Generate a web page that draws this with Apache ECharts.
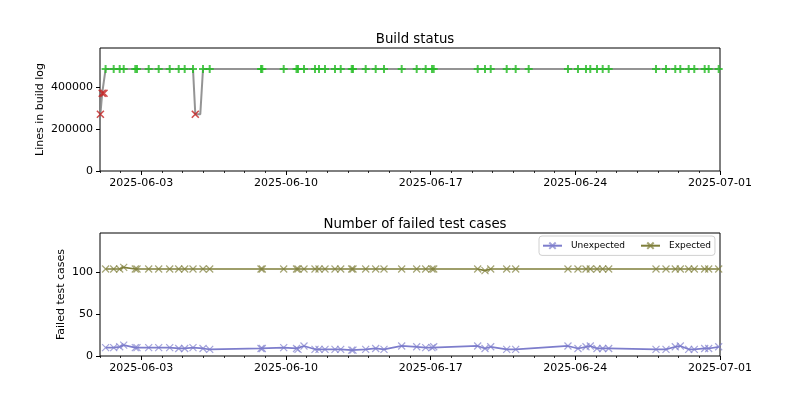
<!DOCTYPE html>
<html>
<head>
<meta charset="utf-8">
<script src="https://cdn.jsdelivr.net/npm/echarts@6/dist/echarts.min.js"></script>
<style>html,body{margin:0;padding:0;background:#fff}#c{width:800px;height:400px}</style>
</head>
<body>
<div id="c"></div>
<script>
// ---- data ----
const successDates = [
 '2025-06-01 06:30','2025-06-01 15:55','2025-06-01 22:52','2025-06-02 03:32','2025-06-02 17:00','2025-06-02 18:58',
 '2025-06-03 08:33','2025-06-03 20:10','2025-06-04 08:57','2025-06-04 19:24','2025-06-05 02:21','2025-06-05 12:00',
 '2025-06-05 23:37','2025-06-06 07:24','2025-06-08 18:58','2025-06-08 20:28','2025-06-09 21:20','2025-06-10 12:12',
 '2025-06-10 13:57','2025-06-10 20:54','2025-06-11 09:40','2025-06-11 14:20','2025-06-11 21:17','2025-06-12 08:54',
 '2025-06-12 15:32','2025-06-13 04:18','2025-06-13 05:48','2025-06-13 20:33','2025-06-14 08:10','2025-06-14 17:48',
 '2025-06-15 14:21','2025-06-16 07:46','2025-06-16 18:13','2025-06-17 01:32','2025-06-17 03:32','2025-06-19 06:37',
 '2025-06-19 15:06','2025-06-19 21:43','2025-06-20 16:18','2025-06-21 02:44','2025-06-21 17:50','2025-06-23 15:27',
 '2025-06-24 03:04','2025-06-24 12:22','2025-06-24 17:22','2025-06-25 01:09','2025-06-25 07:46','2025-06-25 14:44',
 '2025-06-27 21:40','2025-06-28 09:17','2025-06-28 20:05','2025-06-29 01:54','2025-06-29 11:38','2025-06-29 18:09',
 '2025-06-30 06:13','2025-06-30 10:52','2025-06-30 22:29'
];
const successLines = successDates.map(() => 485000);
const failedDates = ['2025-06-01 00:28','2025-06-01 02:33','2025-06-01 04:39','2025-06-05 14:40'];
const failedLines = [270000, 370000, 370000, 270000];
const unmarkedDates = ['2025-06-05 20:28'];
const unmarkedLines = [270000];

const testDates = successDates.filter(d => d !== '2025-06-21 17:50');
const unexpected = [10,10,11,13,10,10,10,10,10,9,9,10,9,8,9,9,10,9,8,12,8,8,8,8,8,7,7,8,9,8,
                    12,11,10,10,11,12,9,11,8,8,12,9,11,12,9,9,9,8,8,11,12,8,8,9,9,11];
const expected = [104,104,104,106,104,104,104,104,104,104,104,104,104,104,104,104,104,104,104,104,
                  104,104,104,104,104,104,104,104,104,104,104,104,104,104,104,104,102,104,104,104,
                  104,104,104,104,104,104,104,104,104,104,104,104,104,104,104,104];

const xStart = '2025-06-01 00:00';
const xEnd = '2025-07-01 00:00';
const xTickLabels = ['2025-06-03','2025-06-10','2025-06-17','2025-06-24','2025-07-01'];
const yTicksTop = [0, 200000, 400000];
const yTicksBottom = [0, 50, 100];

// ---- helpers ----
function t(s){
  const m = s.match(/(\d+)-(\d+)-(\d+)(?:[ T](\d+):(\d+))?/);
  return Date.UTC(+m[1], +m[2]-1, +m[3], +(m[4]||0), +(m[5]||0));
}
const xMin = t(xStart), xMax = t(xEnd);
const majorVals = xTickLabels.map(t);
const labelMap = {}; xTickLabels.forEach(l => labelMap[t(l)] = l);
const minorVals = [];
for (let v = xMin; v <= xMax; v += 86400000) minorVals.push(v);

const buildAll = []
  .concat(successDates.map((d,i)=>[t(d), successLines[i]]))
  .concat(failedDates.map((d,i)=>[t(d), failedLines[i]]))
  .concat(unmarkedDates.map((d,i)=>[t(d), unmarkedLines[i]]))
  .sort((a,b)=>a[0]-b[0]);

const FONT = 'DejaVu Sans';
const X_SYM = 'path://M0,0L10,10M10,0L0,10';
const P_SYM = 'path://M5,0L5,10M0,5L10,5';

function xAxes(gi){
  return [{
    type:'value', gridIndex:gi, min:xMin, max:xMax, position:'bottom',
    axisLine:{show:false},
    axisTick:{show:true, length:4, customValues:majorVals, lineStyle:{color:'#000', width:1}},
    axisLabel:{show:true, customValues:majorVals, margin:7, color:'#000', fontFamily:FONT, fontSize:11,
               formatter:v=>labelMap[v]||''},
    splitLine:{show:false}
  },{
    type:'value', gridIndex:gi, min:xMin, max:xMax, position:'bottom',
    axisLine:{show:false},
    axisTick:{show:true, length:2, customValues:minorVals, lineStyle:{color:'#000', width:0.8}},
    axisLabel:{show:false}, splitLine:{show:false}
  }];
}
function yAxis(gi, max, ticks, name, gap){
  return {
    type:'value', gridIndex:gi, min:0, max:max, position:'left',
    name:name, nameLocation:'middle', nameGap:gap, nameRotate:90, nameMoveOverlap:false,
    nameTextStyle:{color:'#000', fontFamily:FONT, fontSize:11},
    axisLine:{show:false},
    axisTick:{show:true, length:4, customValues:ticks, lineStyle:{color:'#000'}},
    axisLabel:{customValues:ticks, margin:7, color:'#000', fontFamily:FONT, fontSize:11,
               formatter:v=>String(v)},
    splitLine:{show:false}
  };
}

const chart = echarts.init(document.getElementById('c'), null, {renderer:'canvas'});
chart.setOption({
  animation:false,
  backgroundColor:'#fff',
  title:[
    {text:'Build status', left:410, top:28, textAlign:'center',
     textStyle:{fontFamily:FONT, fontSize:13.3, fontWeight:'normal', color:'#000'}},
    {text:'Number of failed test cases', left:410, top:213, textAlign:'center',
     textStyle:{fontFamily:FONT, fontSize:13.3, fontWeight:'normal', color:'#000'}}
  ],
  grid:[
    {left:100, width:620, top:48, height:123, show:true, borderColor:'#000', borderWidth:1, backgroundColor:'transparent'},
    {left:100, width:620, top:233, height:123, show:true, borderColor:'#000', borderWidth:1, backgroundColor:'transparent'}
  ],
  xAxis:[].concat(xAxes(0), xAxes(1)),
  yAxis:[
    yAxis(0, 585000, yTicksTop, 'Lines in build log', 54),
    yAxis(1, 147, yTicksBottom, 'Failed test cases', 33)
  ],
  legend:{
    data:['Unexpected','Expected'],
    left:539, top:236, orient:'horizontal',
    padding:[4,4,4,3], itemGap:15, itemWidth:19, itemHeight:8,
    borderColor:'#d0d0d0', borderWidth:1, borderRadius:3, backgroundColor:'rgba(255,255,255,0.8)',
    textStyle:{fontFamily:FONT, fontSize:9, color:'#000', padding:[0,0,0,4]}
  },
  series:[
    {type:'line', name:'build', xAxisIndex:0, yAxisIndex:0, data:buildAll, symbol:'none',
     lineStyle:{color:'#888888', width:2, opacity:0.9}, z:2},
    {type:'scatter', name:'success', xAxisIndex:0, yAxisIndex:0,
     data:successDates.map((d,i)=>[t(d), successLines[i]]),
     symbol:P_SYM, symbolSize:8,
     itemStyle:{color:'none', borderColor:'#22bb22', borderWidth:2}, z:3},
    {type:'scatter', name:'failed', xAxisIndex:0, yAxisIndex:0,
     data:failedDates.map((d,i)=>[t(d), failedLines[i]]),
     symbol:X_SYM, symbolSize:7,
     itemStyle:{color:'none', borderColor:'#c42020', borderWidth:1.6}, z:4},
    {type:'line', name:'Unexpected', xAxisIndex:2, yAxisIndex:1,
     data:testDates.map((d,i)=>[t(d), unexpected[i]]),
     symbol:X_SYM, symbolSize:7, showAllSymbol:true,
     lineStyle:{color:'#7d7dcc', width:1.7},
     itemStyle:{color:'none', borderColor:'rgba(125,125,204,0.7)', borderWidth:1.2}},
    {type:'line', name:'Expected', xAxisIndex:2, yAxisIndex:1,
     data:testDates.map((d,i)=>[t(d), expected[i]]),
     symbol:X_SYM, symbolSize:7, showAllSymbol:true,
     lineStyle:{color:'#7f7f3a', width:1.7},
     itemStyle:{color:'none', borderColor:'rgba(127,127,58,0.7)', borderWidth:1.2}}
  ]
});
</script>
</body>
</html>
